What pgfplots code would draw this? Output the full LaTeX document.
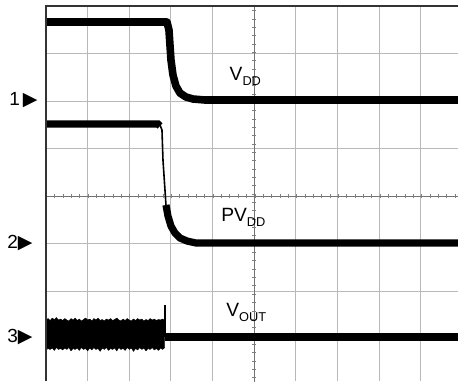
\documentclass[border=0pt]{standalone}
\usepackage{pgfplots}
\pgfplotsset{compat=1.18}
\usepackage{fontspec}
\setmainfont{Liberation Sans}
\newfontfamily\dejavu{DejaVu Sans}

\newcommand{\sig}[2]{#1\raisebox{-2.6pt}{\fontsize{6.4}{6.4}\selectfont #2}}

\begin{document}
\begin{tikzpicture}
\useasboundingbox (-23pt,0pt) rectangle (206pt,190.5pt);
\begin{axis}[
    at={(0,0)}, anchor=south west,
    scale only axis, width=206pt, height=187.5pt,
    xmin=0, xmax=9.89, ymin=-3.883, ymax=4,
    xtick={0,...,9}, ytick={-3,...,4},
    xticklabels={}, yticklabels={},
    major tick length=0pt,
    grid=major,
    major grid style={black!28, line width=0.5pt},
    axis line style={draw=none},
    clip=true,
]
% centre graticule lines with small division marks
\draw[black!55, line width=0.5pt] (axis cs:5,-4) -- (axis cs:5,4);
\draw[black!55, line width=0.5pt] (axis cs:0,0) -- (axis cs:10,0);
\draw[black!50, line width=2pt, dash pattern=on 0.5pt off 3.67pt] (axis cs:5,-4) -- (axis cs:5,4);
\draw[black!50, line width=2pt, dash pattern=on 0.5pt off 3.67pt] (axis cs:0,0) -- (axis cs:10,0);

% V_DD
\addplot[black, line width=3.8pt, line join=round] coordinates {
 (0,3.664) (2.904,3.664) (2.952,3.495) (2.976,3.180) (3.000,2.865)
 (3.048,2.549) (3.120,2.318) (3.216,2.171) (3.360,2.087) (3.528,2.045)
 (3.816,2.024) (9.9,2.024)};

% PV_DD
\addplot[black, line width=3.6pt] coordinates {
 (0,1.519) (2.688,1.519) (2.736,1.477)};
\addplot[black, line width=0.8pt] coordinates {
 (2.736,1.50) (2.784,1.393) (2.808,0.763) (2.856,0.132) (2.880,-0.183)};
\addplot[black, line width=3.6pt, line join=round] coordinates {
 (2.880,-0.183) (2.928,-0.415) (3.000,-0.625) (3.096,-0.772)
 (3.216,-0.877) (3.384,-0.940) (3.600,-0.982) (9.9,-0.982)};

% V_OUT (noisy band before the step)
\addplot[black, fill=black, line width=0.2pt] coordinates {
 (0,-2.60) (0.05,-2.57) (0.1,-2.61) (0.15,-2.56) (0.2,-2.59) (0.25,-2.55)
 (0.3,-2.60) (0.35,-2.58) (0.4,-2.61) (0.45,-2.57) (0.5,-2.60) (0.55,-2.62)
 (0.6,-2.57) (0.65,-2.60) (0.7,-2.56) (0.75,-2.61) (0.8,-2.58) (0.85,-2.62)
 (0.9,-2.59) (0.95,-2.56) (1.0,-2.60) (1.05,-2.58) (1.1,-2.62) (1.15,-2.57)
 (1.2,-2.60) (1.25,-2.56) (1.3,-2.61) (1.35,-2.59) (1.4,-2.62) (1.45,-2.58)
 (1.5,-2.60) (1.55,-2.57) (1.6,-2.61) (1.65,-2.59) (1.7,-2.56) (1.75,-2.60)
 (1.8,-2.62) (1.85,-2.58) (1.9,-2.61) (1.95,-2.57) (2.0,-2.60) (2.05,-2.62)
 (2.1,-2.58) (2.15,-2.61) (2.2,-2.57) (2.25,-2.60) (2.3,-2.58) (2.35,-2.62)
 (2.4,-2.59) (2.45,-2.61) (2.5,-2.57) (2.55,-2.60) (2.6,-2.58) (2.65,-2.61)
 (2.7,-2.59) (2.75,-2.60) (2.8,-2.58) (2.85,-2.61)
 (2.85,-3.18) (2.8,-3.22) (2.75,-3.19) (2.7,-3.24) (2.65,-3.20) (2.6,-3.23)
 (2.55,-3.18) (2.5,-3.22) (2.45,-3.20) (2.4,-3.25) (2.35,-3.19) (2.3,-3.22)
 (2.25,-3.18) (2.2,-3.23) (2.15,-3.20) (2.1,-3.26) (2.05,-3.19) (2.0,-3.22)
 (1.95,-3.18) (1.9,-3.24) (1.85,-3.20) (1.8,-3.22) (1.75,-3.18) (1.7,-3.25)
 (1.65,-3.19) (1.6,-3.22) (1.55,-3.20) (1.5,-3.24) (1.45,-3.18) (1.4,-3.22)
 (1.35,-3.19) (1.3,-3.26) (1.25,-3.20) (1.2,-3.22) (1.15,-3.18) (1.1,-3.23)
 (1.05,-3.19) (1.0,-3.25) (0.95,-3.20) (0.9,-3.22) (0.85,-3.18) (0.8,-3.24)
 (0.75,-3.19) (0.7,-3.22) (0.65,-3.20) (0.6,-3.25) (0.55,-3.18) (0.5,-3.22)
 (0.45,-3.19) (0.4,-3.23) (0.35,-3.20) (0.3,-3.22) (0.25,-3.18) (0.2,-3.24)
 (0.15,-3.19) (0.1,-3.22) (0.05,-3.20) (0,-3.23)
} -- cycle;
\addplot[black, line width=0.8pt] coordinates {(2.856,-2.95) (2.856,-2.286)};
\addplot[black, line width=3.6pt] coordinates {(2.856,-2.958) (9.9,-2.958)};

% trace labels
\node[anchor=base west, inner sep=0pt, font=\fontsize{9.6}{9.6}\selectfont]
  at (axis cs:4.40,2.43) {\sig{V}{DD}};
\node[anchor=base west, inner sep=0pt, font=\fontsize{9.6}{9.6}\selectfont]
  at (axis cs:4.20,-0.53) {\sig{PV}{DD}};
\node[anchor=base west, inner sep=0pt, font=\fontsize{9.6}{9.6}\selectfont]
  at (axis cs:4.32,-2.53) {\sig{V}{OUT}};

\coordinate (m1) at (axis cs:0,2.024);
\coordinate (m2) at (axis cs:0,-0.982);
\coordinate (m3) at (axis cs:0,-2.958);
\coordinate (tl) at (rel axis cs:0,0);
\coordinate (tr) at (rel axis cs:0,1);
\coordinate (rr) at (rel axis cs:1,1);
\end{axis}
% screen frame (left and top edges are visible)
\draw[black!80, line width=0.8pt] (tl) -- (tr) -- (rr);
% channel markers
\node[anchor=east, inner sep=0pt, font=\fontsize{9.5}{9.5}\selectfont] at ([xshift=-4pt]m1) {1\,{\dejavu ▶}};
\node[anchor=east, inner sep=0pt, font=\fontsize{9.5}{9.5}\selectfont] at ([xshift=-6.5pt]m2) {2{\dejavu ▶}};
\node[anchor=east, inner sep=0pt, font=\fontsize{9.5}{9.5}\selectfont] at ([xshift=-6.5pt]m3) {3{\dejavu ▶}};
\end{tikzpicture}
\end{document}
